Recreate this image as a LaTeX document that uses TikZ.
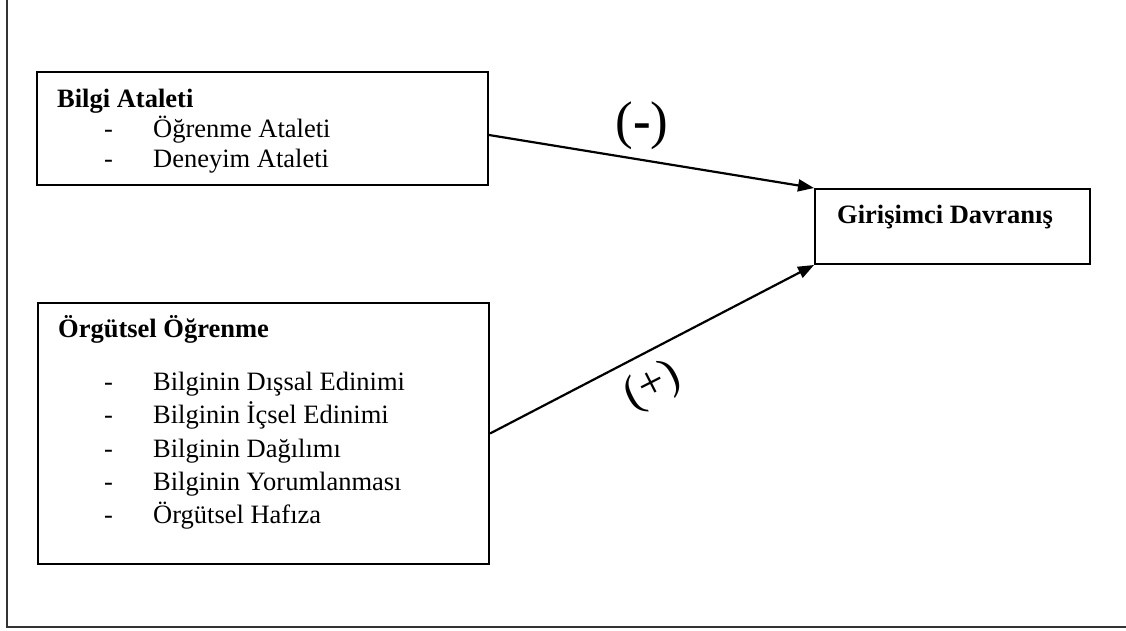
\documentclass[tikz,border=0pt]{standalone}
\usepackage{fontspec}
\setmainfont{Liberation Serif}
\usetikzlibrary{arrows.meta}
\begin{document}
\begin{tikzpicture}[x=1pt,y=-1pt,
  box/.style={draw=black,line width=2pt,inner sep=0pt,anchor=north west},
  txt/.style={inner sep=0pt,anchor=base west,font=\fontsize{26.5}{30}\selectfont},
  head/.style={txt,font=\fontsize{26.5}{30}\selectfont\bfseries},
  link/.style={line width=2.2pt,-{Triangle[length=16pt,width=12pt]}},
  frame/.style={line width=1.4pt,draw=black!80}]
\useasboundingbox (0,0) rectangle (1126,630);
% page frame: left and bottom rules
\coordinate (ftop) at (7,0);
\coordinate (fcorner) at (7,627);
\coordinate (fright) at (1126,627);
\draw[frame] (ftop) -- (fcorner) -- (fright);

% boxes
\node[box,minimum width=451pt,minimum height=113pt] (bilgi) at (36,71) {};
\node[box,minimum width=451pt,minimum height=261pt] (orgut) at (37,302) {};
\node[box,minimum width=275pt,minimum height=75pt] (giris) at (814,188) {};

% Bilgi Ataleti
\node[head] (b0) at (57,107) {Bilgi Ataleti};
\node[txt] (b1d) at (104,137) {-};
\node[txt] (b1) at (153,137) {Öğrenme Ataleti};
\node[txt] (b2d) at (104,167) {-};
\node[txt] (b2) at (153,167) {Deneyim Ataleti};

% Örgütsel Öğrenme
\node[head] (o0) at (58,337) {Örgütsel Öğrenme};
\node[txt] (o1d) at (104,390) {-};
\node[txt] (o1) at (153,390) {Bilginin Dışsal Edinimi};
\node[txt] (o2d) at (104,423) {-};
\node[txt] (o2) at (153,423) {Bilginin İçsel Edinimi};
\node[txt] (o3d) at (104,457) {-};
\node[txt] (o3) at (153,457) {Bilginin Dağılımı};
\node[txt] (o4d) at (104,490) {-};
\node[txt] (o4) at (153,490) {Bilginin Yorumlanması};
\node[txt] (o5d) at (104,523) {-};
\node[txt] (o5) at (153,523) {Örgütsel Hafıza};

% Girişimci Davranış
\node[head] (g0) at (837,223) {Girişimci Davranış};

% effects
\draw[link] ([yshift=-6.5pt]bilgi.east) -- (giris.north west);
\draw[link] (orgut.east) -- (giris.south west);
\node[font=\fontsize{53}{53}\selectfont,inner sep=0pt] (neg) at (642,126) {(\textbf{-})};
\node[font=\fontsize{46}{46}\selectfont,inner sep=0pt,rotate=27] (pos) at (653,387) {(+)};
\end{tikzpicture}
\end{document}
